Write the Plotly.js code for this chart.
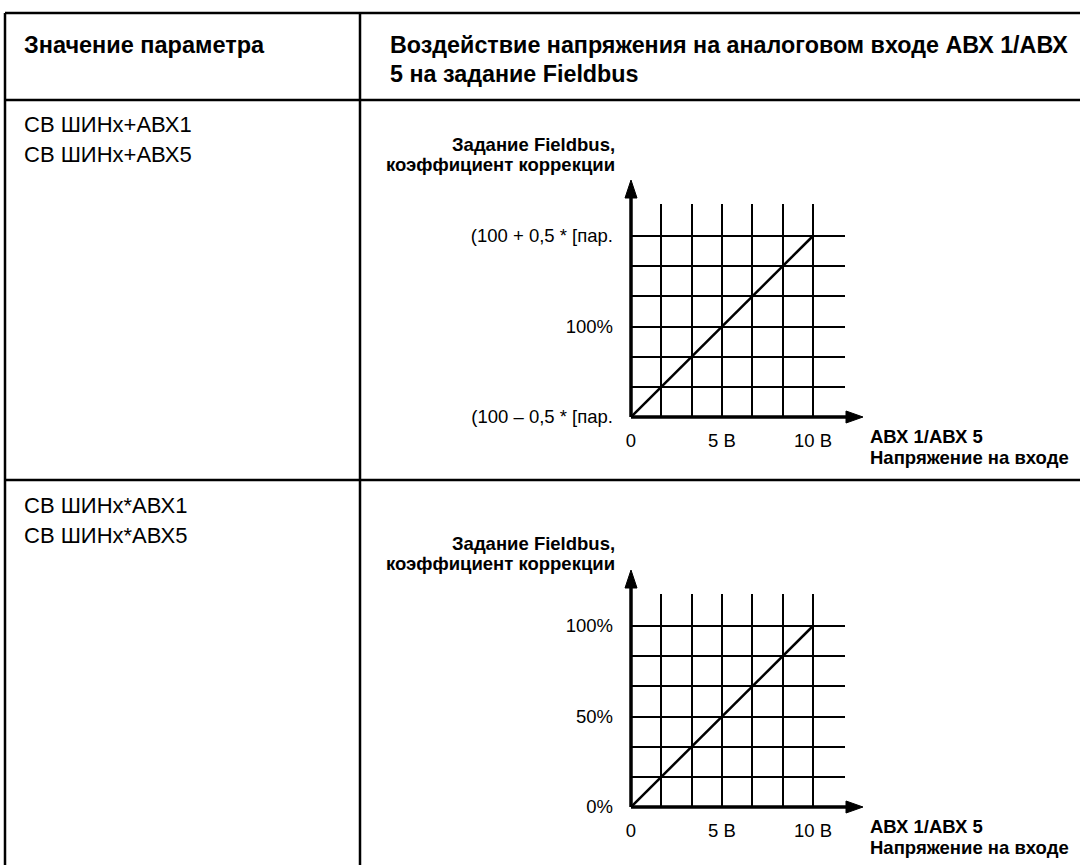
<!DOCTYPE html>
<html>
<head>
<meta charset="utf-8">
<script src="https://cdn.plot.ly/plotly-3.0.1.min.js"></script>
<style>html,body{margin:0;padding:0;background:#fff;}#chart{width:1080px;height:865px;}</style>
</head>
<body>
<div id="chart"></div>
<script>
// ---- data ----
const voltage = [0, 10];                 // V, input on ABX 1 / ABX 5
const refSum = [0, 100];                 // chart 1: from (100 – 0,5*[пар.) to (100 + 0,5*[пар.)
const refMul = [0, 100];                 // chart 2: 0% .. 100%
const xTickVals = [0, 5, 10];
const xTickText = ['0', '5 В', '10 В'];
const yTickVals = [0, 50, 100];
const yTickTextSum = ['(100 – 0,5 * [пар.', '100%', '(100 + 0,5 * [пар.'];
const yTickTextMul = ['0%', '50%', '100%'];
const xGrid = [0, 10/6, 20/6, 5, 40/6, 50/6, 10];
const yGrid = [0, 100/6, 200/6, 50, 400/6, 500/6, 100];
const headerLeft = 'Значение параметра';
const headerRight1 = 'Воздействие напряжения на аналоговом входе АВХ 1/АВХ';
const headerRight2 = '5 на задание Fieldbus';
const row1Params = ['СВ ШИНх+АВХ1', 'СВ ШИНх+АВХ5'];
const row2Params = ['СВ ШИНх*АВХ1', 'СВ ШИНх*АВХ5'];
const yTitle = ['Задание Fieldbus,', 'коэффициент коррекции'];
const xTitle = ['АВХ 1/АВХ 5', 'Напряжение на входе'];

// ---- layout helpers ----
const W = 1080, H = 865;
const fx = p => p / W;
const fy = p => 1 - p / H;
const FONT = 'Liberation Sans, Arial, sans-serif';
const TICK = 18.5;
const TITLE = 18.5;

function xAxis(anchor) {
  return {
    domain: [fx(631), fx(845)], range: [0, 11.76], anchor: anchor,
    tickmode: 'array', tickvals: xTickVals, ticktext: xTickText,
    showgrid: true, gridcolor: '#000', gridwidth: 2,
    minor: {tickmode: 'array', tickvals: xGrid, showgrid: true, gridcolor: '#000', gridwidth: 2, ticks: ''},
    zeroline: false, showline: false, ticks: '', ticklabelstandoff: 10,
    tickfont: {family: FONT, size: TICK, color: '#000'}, fixedrange: true
  };
}
function yAxis(anchor, bottomPx, tickText) {
  const unit = 181 / 100;
  const topPx = bottomPx - 117.6 * unit;
  return {
    domain: [fy(bottomPx), fy(topPx)], range: [0, 117.6], anchor: anchor,
    tickmode: 'array', tickvals: yTickVals, ticktext: tickText,
    showgrid: true, gridcolor: '#000', gridwidth: 2,
    minor: {tickmode: 'array', tickvals: yGrid, showgrid: true, gridcolor: '#000', gridwidth: 2, ticks: ''},
    zeroline: false, showline: false, ticks: '', ticklabelstandoff: 17,
    tickfont: {family: FONT, size: TICK, color: '#000'}, fixedrange: true
  };
}

const traces = [
  {x: voltage, y: refSum, xaxis: 'x', yaxis: 'y', mode: 'lines', line: {color: '#000', width: 2.5}, hoverinfo: 'skip'},
  {x: voltage, y: refMul, xaxis: 'x2', yaxis: 'y2', mode: 'lines', line: {color: '#000', width: 2.5}, hoverinfo: 'skip'}
];

const shapes = [];
function hline(y, x0, x1, w) { shapes.push({type: 'line', xref: 'paper', yref: 'paper', x0: fx(x0), x1: fx(x1), y0: fy(y), y1: fy(y), line: {color: '#000', width: w}}); }
function vline(x, y0, y1, w) { shapes.push({type: 'line', xref: 'paper', yref: 'paper', x0: fx(x), x1: fx(x), y0: fy(y0), y1: fy(y1), line: {color: '#000', width: w}}); }
function tri(pts) {
  const d = 'M' + pts.map(p => fx(p[0]) + ',' + fy(p[1])).join('L') + 'Z';
  shapes.push({type: 'path', xref: 'paper', yref: 'paper', path: d, fillcolor: '#000', line: {color: '#000', width: 1}});
}
// table
hline(13, 5, 1080, 2.5);
hline(100, 5, 1080, 2.5);
hline(480, 5, 1080, 2.5);
vline(5, 13, 865, 2.5);
vline(360, 13, 865, 2.5);
// axes with arrows
function axesArrows(bottom) {
  const top = bottom - 237;
  hline(bottom, 631, 847, 3.5);
  vline(631, bottom, top + 18, 3.5);
  tri([[863, bottom], [846, bottom - 6], [846, bottom + 6]]);
  tri([[631, top], [625, top + 18], [637, top + 18]]);
}
axesArrows(417);
axesArrows(807);

const annotations = [];
function txt(text, x, y, size, bold, anchor) {
  annotations.push({xref: 'paper', yref: 'paper', x: fx(x), y: fy(y), text: bold ? '<b>' + text + '</b>' : text,
    showarrow: false, xanchor: anchor || 'left', yanchor: 'middle',
    font: {family: FONT, size: size, color: '#000'}});
}
txt(headerLeft, 22, 45, 23.5, true);
txt(headerRight1, 388, 45, 23.3, true);
txt(headerRight2, 388, 74, 23.3, true);
txt(row1Params[0], 22, 125, 22, false);
txt(row1Params[1], 22, 155, 22, false);
txt(row2Params[0], 22, 505, 22, false);
txt(row2Params[1], 22, 535, 22, false);
txt(yTitle[0], 617, 144, TITLE, true, 'right');
txt(yTitle[1], 617, 164, TITLE, true, 'right');
txt(xTitle[0], 868, 436, TITLE, true);
txt(xTitle[1], 868, 457, TITLE, true);
txt(yTitle[0], 617, 543, TITLE, true, 'right');
txt(yTitle[1], 617, 563, TITLE, true, 'right');
txt(xTitle[0], 868, 826, TITLE, true);
txt(xTitle[1], 868, 847, TITLE, true);

const layout = {
  width: W, height: H, margin: {l: 0, r: 0, t: 0, b: 0, pad: 0},
  paper_bgcolor: '#fff', plot_bgcolor: 'rgba(0,0,0,0)', showlegend: false,
  xaxis: xAxis('y'), yaxis: yAxis('x', 417, yTickTextSum),
  xaxis2: xAxis('y2'), yaxis2: yAxis('x2', 807, yTickTextMul),
  shapes: shapes, annotations: annotations,
  font: {family: FONT, color: '#000'}
};
Plotly.newPlot('chart', traces, layout, {staticPlot: true, displayModeBar: false});
</script>
</body>
</html>
